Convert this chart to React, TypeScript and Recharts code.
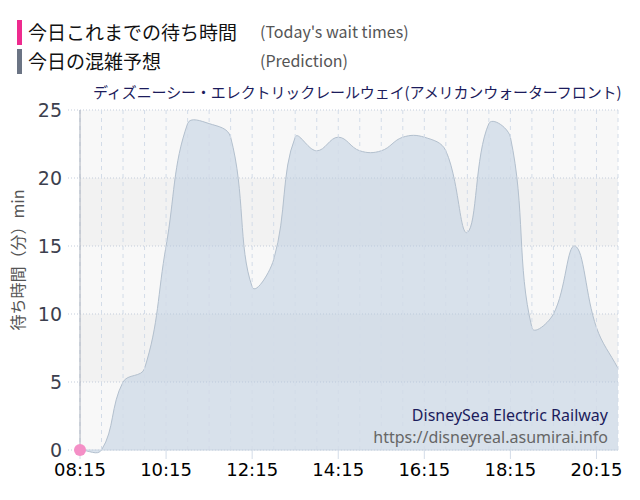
import React from "react";
import {
  ComposedChart,
  Area,
  Line,
  XAxis,
  YAxis,
  CartesianGrid,
  ReferenceLine,
} from "recharts";

// half-hour slots of the day
const times = [
  "08:15", "08:45", "09:15", "09:45", "10:15", "10:45", "11:15", "11:45",
  "12:15", "12:45", "13:15", "13:45", "14:15", "14:45", "15:15", "15:45",
  "16:15", "16:45", "17:15", "17:45", "18:15", "18:45", "19:15", "19:45",
  "20:15", "20:45",
];
// 今日の混雑予想 (prediction, minutes)
const predicted = [
  0, 0, 5, 6, 15, 24, 24, 23, 12, 14, 23, 22, 23, 22, 22, 23, 23, 22, 16, 24,
  23, 9, 10, 15, 9, 6,
];
// 今日これまでの待ち時間 (only the first slot so far)
const actual = [0];

const xTickLabels = ["08:15", "10:15", "12:15", "14:15", "16:15", "18:15", "20:15"];
const yTicks = [0, 5, 10, 15, 20, 25];

const toMin = (t: string) => {
  const [h, m] = t.split(":").map(Number);
  return h * 60 + m;
};
const fmt = (v: number) =>
  `${String(Math.floor(v / 60)).padStart(2, "0")}:${String(v % 60).padStart(2, "0")}`;

const data = times.map((t, i) => ({
  t: toMin(t),
  pred: predicted[i],
  actual: i < actual.length ? actual[i] : null,
}));

// distance-weighted spline with tension 0.4, the same smoothing the site uses
const TENSION = 0.4;
class TensionSpline {
  _context: any;
  _line: number = NaN;
  _pts: number[][] = [];
  constructor(context: any) {
    this._context = context;
  }
  areaStart() {
    this._line = 0;
  }
  areaEnd() {
    this._line = NaN;
  }
  lineStart() {
    this._pts = [];
  }
  point(x: number, y: number) {
    this._pts.push([+x, +y]);
  }
  lineEnd() {
    const p = this._pts;
    const c = this._context;
    const n = p.length;
    if (n) {
      if (this._line) c.lineTo(p[0][0], p[0][1]);
      else c.moveTo(p[0][0], p[0][1]);
      const prevCp: number[][] = [];
      const nextCp: number[][] = [];
      for (let i = 0; i < n; i++) {
        const [x, y] = p[i];
        const [px, py] = p[i - 1] || p[i];
        const [nx, ny] = p[i + 1] || p[i];
        const d01 = Math.hypot(x - px, y - py);
        const d12 = Math.hypot(nx - x, ny - y);
        let s01 = d01 / (d01 + d12);
        let s12 = d12 / (d01 + d12);
        if (!isFinite(s01)) s01 = 0;
        if (!isFinite(s12)) s12 = 0;
        const fa = TENSION * s01;
        const fb = TENSION * s12;
        prevCp[i] = [x - fa * (nx - px), y - fa * (ny - py)];
        nextCp[i] = [x + fb * (nx - px), y + fb * (ny - py)];
      }
      for (let i = 1; i < n; i++) {
        c.bezierCurveTo(
          nextCp[i - 1][0], nextCp[i - 1][1],
          prevCp[i][0], prevCp[i][1],
          p[i][0], p[i][1]
        );
      }
    }
    if (this._line || (this._line !== 0 && n === 1)) c.closePath();
    this._line = 1 - this._line;
  }
}
const smoothCurve = (context: any) => new TensionSpline(context);

const jp = '"Noto Sans CJK JP", "Noto Sans", sans-serif';

export default function App() {
  return (
    <div
      style={{
        position: "absolute",
        left: 0,
        top: 0,
        width: 640,
        height: 500,
        background: "#fff",
        fontFamily: jp,
      }}
    >
      {/* legend */}
      <div style={{ position: "absolute", left: 17, top: 20, width: 5, height: 25, background: "#ee2a8e" }} />
      <div style={{ position: "absolute", left: 28, top: 22, fontSize: 19, lineHeight: "20px", color: "#111" }}>
        今日これまでの待ち時間
      </div>
      <div style={{ position: "absolute", left: 260, top: 22, fontSize: 16, lineHeight: "18px", color: "#555" }}>
        (Today's wait times)
      </div>
      <div style={{ position: "absolute", left: 17, top: 49, width: 5, height: 25, background: "#6b7484" }} />
      <div style={{ position: "absolute", left: 28, top: 51, fontSize: 19, lineHeight: "20px", color: "#111" }}>
        今日の混雑予想
      </div>
      <div style={{ position: "absolute", left: 260, top: 51, fontSize: 16, lineHeight: "18px", color: "#555" }}>
        (Prediction)
      </div>

      {/* title */}
      <div style={{ position: "absolute", left: 93, top: 83, fontSize: 15, lineHeight: "18px", color: "#1c1c5c", letterSpacing: -0.1 }}>
        ディズニーシー・エレクトリックレールウェイ(アメリカンウォーターフロント)
      </div>

      {/* y axis label */}
      <div
        style={{
          position: "absolute",
          left: 17,
          top: 260,
          transform: "translate(-50%, -50%) rotate(-90deg)",
          whiteSpace: "nowrap",
          fontSize: 16,
          lineHeight: "18px",
          color: "#555",
        }}
      >
        待ち時間（分）min
      </div>

      <div style={{ position: "absolute", left: 0, top: 0 }}>
        <ComposedChart
          width={640}
          height={500}
          data={data}
          margin={{ top: 110, right: 22, left: 20, bottom: 0 }}
        >
          <CartesianGrid
            vertical={false}
            stroke="#c4cddb"
            strokeDasharray="1 2"
            fill="#f8f8f8"
            horizontalFill={["#f8f8f8", "#f2f2f2"]}
          />
          {times.map((t) => (
            <ReferenceLine
              key={t}
              x={toMin(t)}
              stroke="#d3dce8"
              strokeDasharray="4 4"
            />
          ))}
          <XAxis
            dataKey="t"
            type="number"
            domain={[toMin(times[0]), toMin(times[times.length - 1])]}
            ticks={xTickLabels.map(toMin)}
            tickFormatter={fmt}
            height={50}
            tickSize={9}
            tickMargin={4}
            axisLine={{ stroke: "#ccd6e2" }}
            tickLine={{ stroke: "#d3dce8" }}
            tick={{ fontSize: 18, fill: "#000", fontFamily: '"DejaVu Sans", sans-serif' }}
          />
          <YAxis
            domain={[0, 25]}
            ticks={yTicks}
            width={60}
            tickSize={12}
            tickMargin={6}
            axisLine={{ stroke: "#a9b0bc" }}
            tickLine={{ stroke: "#c4cddb", strokeDasharray: "1 2" }}
            tick={{ fontSize: 19, fill: "#3c3f4e", fontFamily: '"DejaVu Sans", sans-serif' }}
          />
          <Area
            type={smoothCurve as any}
            dataKey="pred"
            stroke="#b3c0ce"
            strokeWidth={1}
            fill="#b8cadd"
            fillOpacity={0.5}
            isAnimationActive={false}
          />
          <Line
            dataKey="actual"
            stroke="#f48fc6"
            dot={{ r: 6, fill: "#f48fc6", stroke: "none" }}
            isAnimationActive={false}
          />
        </ComposedChart>
      </div>

      {/* watermark */}
      <div
        style={{
          position: "absolute",
          right: 32,
          top: 404,
          textAlign: "right",
          fontFamily: '"Noto Sans", sans-serif',
          fontSize: 16,
          lineHeight: "22px",
        }}
      >
        <div style={{ color: "#1c1c5c" }}>DisneySea Electric Railway</div>
        <div style={{ color: "#666" }}>https://disneyreal.asumirai.info</div>
      </div>
    </div>
  );
}
